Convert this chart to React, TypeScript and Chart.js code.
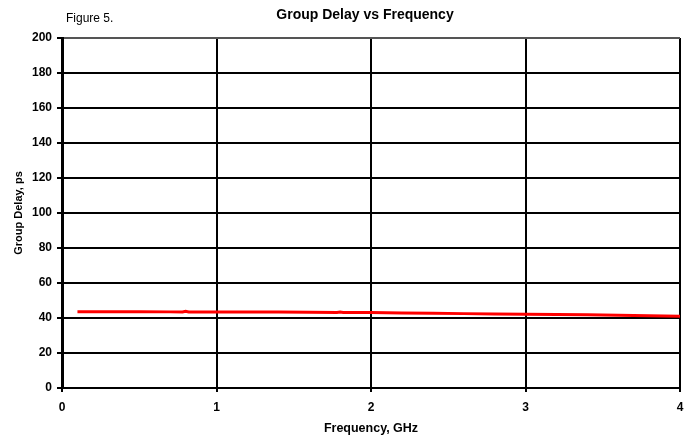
import React, { useEffect, useRef } from "react";
import { Chart, registerables } from "chart.js";

Chart.register(...registerables);

const chartTitle = "Group Delay vs Frequency";
const figureLabel = "Figure 5.";
const xAxisTitle = "Frequency, GHz";
const yAxisTitle = "Group Delay, ps";

const frequencies = [0.1, 0.3, 0.5, 0.7, 0.78, 0.8, 0.82, 1.0, 1.2, 1.4, 1.6, 1.78, 1.8, 1.82, 2.0, 2.2, 2.4, 2.6, 2.8, 3.0, 3.2, 3.4, 3.6, 3.8, 4.0];
const delays = [43.6, 43.6, 43.6, 43.5, 43.5, 43.9, 43.5, 43.5, 43.4, 43.4, 43.3, 43.2, 43.4, 43.2, 43.1, 42.9, 42.7, 42.5, 42.3, 42.2, 42.0, 41.8, 41.6, 41.3, 41.0];

const FONT = "Arial, 'Liberation Sans', sans-serif";

export default function App() {
  const ref = useRef<HTMLCanvasElement | null>(null);

  useEffect(() => {
    if (!ref.current) return;
    const textPlugin = {
      id: "texts",
      afterDraw(chart: any) {
        const ctx = chart.ctx;
        ctx.save();
        ctx.fillStyle = "#000";
        ctx.textBaseline = "middle";
        ctx.font = `bold 14px ${FONT}`;
        ctx.textAlign = "center";
        ctx.fillText(chartTitle, 365, 15);
        ctx.font = `12px ${FONT}`;
        ctx.textAlign = "left";
        ctx.fillText(figureLabel, 66, 19);
        ctx.restore();
      },
    };
    const chart = new Chart(ref.current, {
      type: "line",
      data: {
        datasets: [
          {
            data: frequencies.map((f, i) => ({ x: f, y: delays[i] })),
            borderColor: "#ff0000",
            borderWidth: 3,
            pointRadius: 0,
            tension: 0,
            fill: false,
          },
        ],
      },
      options: {
        animation: false,
        responsive: false,
        layout: { padding: { left: 8, right: 13, top: 38, bottom: 3 } },
        plugins: { legend: { display: false }, tooltip: { enabled: false } },
        scales: {
          x: {
            type: "linear",
            min: 0,
            max: 4,
            afterFit: (s: any) => {
              s.height = 48;
            },
            ticks: {
              stepSize: 1,
              color: "#000",
              font: { family: FONT, size: 12, weight: "bold" },
              padding: 8,
              maxRotation: 0,
            },
            grid: {
              color: "#000",
              lineWidth: 2,
              tickLength: 4,
              tickColor: "#000",
            },
            border: { color: "#000", width: 2 },
            title: {
              display: true,
              text: xAxisTitle,
              color: "#000",
              font: { family: FONT, size: 12.5, weight: "bold" },
              padding: 0,
            },
          },
          y: {
            min: 0,
            max: 200,
            afterFit: (s: any) => {
              s.width = 54;
            },
            ticks: {
              stepSize: 20,
              color: "#000",
              font: { family: FONT, size: 12, weight: "bold" },
              padding: 5,
            },
            grid: {
              color: (c: any) => (c.tick && c.tick.value === 200 ? "#555" : "#000"),
              lineWidth: 2,
              tickLength: 5,
              tickColor: "#000",
            },
            border: { color: "#000", width: 3 },
            title: {
              display: true,
              text: yAxisTitle,
              color: "#000",
              font: { family: FONT, size: 11, weight: "bold" },
              padding: 4,
            },
          },
        },
      },
      plugins: [textPlugin],
    });
    return () => chart.destroy();
  }, []);

  return (
    <div style={{ position: "absolute", left: 0, top: 0, width: 693, height: 439, background: "#fff" }}>
      <canvas ref={ref} width={693} height={439} />
    </div>
  );
}
